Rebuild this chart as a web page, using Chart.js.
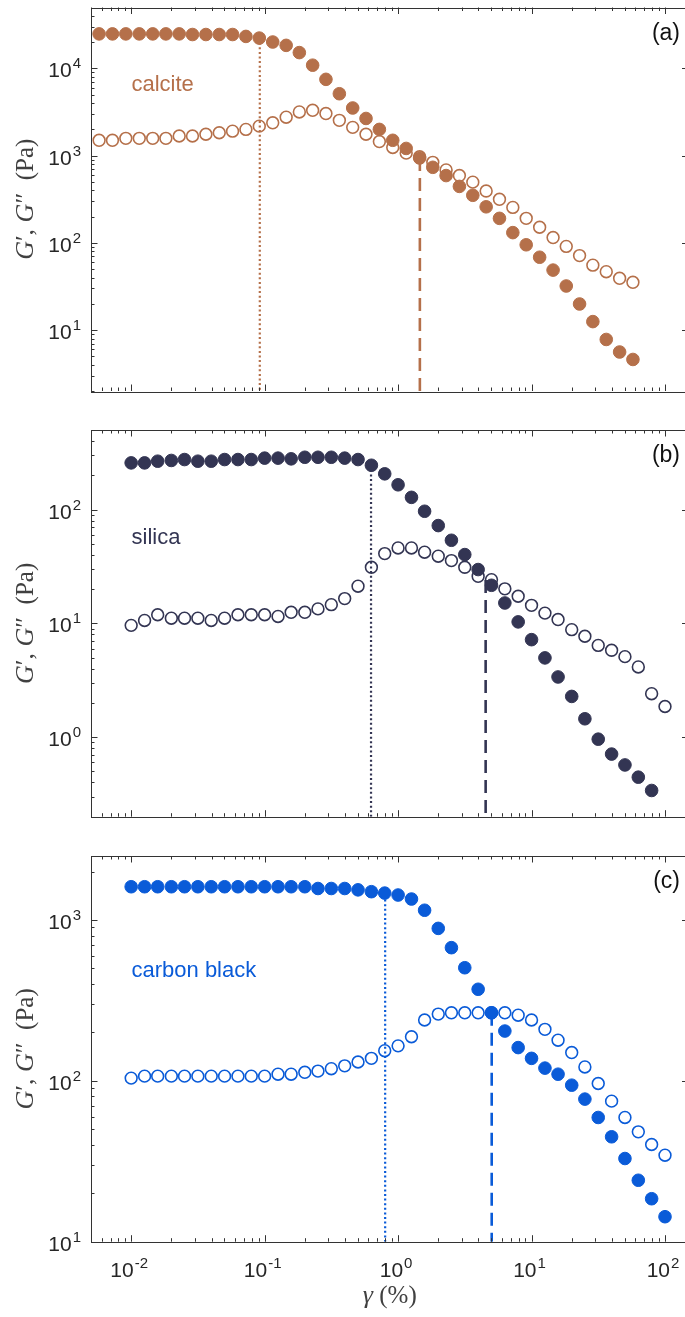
<!DOCTYPE html>
<html>
<head>
<meta charset="utf-8">
<script src="https://cdn.jsdelivr.net/npm/chart.js@4.4.0/dist/chart.umd.min.js"></script>
<style>
  html, body { margin: 0; padding: 0; overflow: hidden; background: #fff; }
  #fig { position: relative; width: 685px; height: 1317px; overflow: hidden; }
  #fig canvas { position: absolute; left: 0; }
</style>
</head>
<body>
<div id="fig">
  <canvas id="panelA" width="700" height="420" style="top:0px"></canvas>
  <canvas id="panelB" width="700" height="420" style="top:420px"></canvas>
  <canvas id="panelC" width="700" height="477" style="top:840px"></canvas>
</div>
<script>
// strain amplitude (%) of each sweep point
const strainA = [0.00575, 0.00724, 0.00912, 0.0115, 0.0145, 0.0182, 0.0229, 0.0288, 0.0363, 0.0457,
  0.0575, 0.0724, 0.0912, 0.115, 0.145, 0.182, 0.229, 0.288, 0.363, 0.457,
  0.575, 0.724, 0.912, 1.15, 1.45, 1.82, 2.29, 2.88, 3.63, 4.57,
  5.75, 7.24, 9.12, 11.5, 14.5, 18.2, 22.9, 28.8, 36.3, 45.7, 57.5];
const strainBC = [0.01, 0.0126, 0.0158, 0.02, 0.0251, 0.0316, 0.0398, 0.0501, 0.0631, 0.0794,
  0.1, 0.126, 0.158, 0.2, 0.251, 0.316, 0.398, 0.501, 0.631, 0.794,
  1, 1.26, 1.58, 2, 2.51, 3.16, 3.98, 5.01, 6.31, 7.94,
  10, 12.6, 15.8, 20, 25.1, 31.6, 39.8, 50.1, 63.1, 79.4, 100];

// calcite
const storageA = [24900, 24900, 24900, 24900, 24900, 24900, 24900, 24500, 24500, 24500,
  24500, 23300, 22300, 20100, 18400, 15200, 10900, 7500, 5130, 3520,
  2670, 2000, 1500, 1210, 940, 735, 591, 444, 351, 259,
  191, 131, 95, 68.4, 48.7, 32, 19.9, 12.5, 7.8, 5.6, 4.6];
const lossA = [1500, 1500, 1580, 1580, 1580, 1580, 1680, 1680, 1760, 1830,
  1910, 2000, 2180, 2380, 2760, 3170, 3310, 3040, 2540, 2110,
  1760, 1450, 1240, 1070, 970, 838, 686, 591, 497, 393,
  316, 255, 191, 151, 115, 91, 71.4, 55.5, 46.7, 39.2, 35.3];

// silica (G' stops one point early)
const storageB = [257, 257, 266, 270, 275, 266, 266, 275, 275, 275,
  283, 283, 279, 288, 288, 288, 283, 275, 245, 206,
  165, 128, 96.6, 72.3, 53.7, 40.2, 29.7, 21.6, 15.1, 10.3,
  7.19, 4.97, 3.38, 2.28, 1.45, 0.96, 0.71, 0.57, 0.445, 0.34];
const lossB = [9.6, 10.6, 11.9, 11.1, 11.1, 11.1, 10.6, 11.1, 11.9, 11.9,
  11.9, 11.5, 12.5, 12.5, 13.4, 14.6, 16.5, 21.2, 31.1, 41,
  46, 46, 42.2, 38.9, 35.6, 31.1, 25.9, 24.2, 20.1, 17.3,
  14.4, 12.3, 10.8, 8.8, 7.7, 6.4, 5.8, 5.1, 4.14, 2.41, 1.86];

// carbon black
const storageC = [1610, 1610, 1610, 1610, 1610, 1610, 1610, 1610, 1610, 1610,
  1610, 1610, 1610, 1610, 1570, 1570, 1570, 1540, 1500, 1470,
  1430, 1350, 1150, 887, 673, 505, 371, 265, 204, 161,
  138, 120, 110, 94, 77, 59.2, 44.9, 32.9, 24.1, 18.5, 14.3];
const lossC = [104, 107, 107, 107, 107, 107, 107, 107, 107, 107,
  107, 110, 110, 113, 115, 119, 124, 131, 138, 154,
  165, 188, 239, 260, 265, 265, 265, 265, 265, 256,
  239, 209, 179, 150, 122, 96.3, 74.8, 59.2, 48.2, 40.2, 34.5];

// end of linear regime (dotted) and G'/G'' crossover (dashed), per panel a, b, c
const yieldStrain = [0.092, 0.627, 0.80];
const yieldModulus = [22300, 245, 1430];
const crossStrain = [1.456, 4.53, 5.03];
const crossModulus = [940, 24, 265];

// axis ranges and labelled decades
const xRange = [0.005, 150];
const xTickPowers = [-2, -1, 0, 1, 2];
const yRangeA = [2, 50000];
const yRangeB = [0.2, 500];
const yRangeC = [10, 2500];
const yTickPowersA = [1, 2, 3, 4];
const yTickPowersB = [0, 1, 2];
const yTickPowersC = [1, 2, 3];

const panelNames = ['calcite', 'silica', 'carbon black'];
const panelTags = ['(a)', '(b)', '(c)'];
const panelColors = ['#B5704A', '#333553', '#0A5BD8'];

const TICK_FONT = "'Liberation Sans', Arial, Helvetica, sans-serif";
const SERIF = "'Liberation Serif', 'Times New Roman', serif";

function toPoints(xs, ys) {
  return ys.map((y, i) => ({ x: xs[i], y: y }));
}

function markers(xs, ys, color, filled) {
  return {
    data: toPoints(xs, ys),
    showLine: false,
    pointStyle: 'circle',
    pointRadius: filled ? 6.3 : 5.9,
    pointBorderWidth: filled ? 1 : 1.6,
    pointBackgroundColor: filled ? color : 'rgba(0,0,0,0)',
    pointBorderColor: color,
    order: filled ? 0 : 1,
  };
}

function guide(x, top, bottom, color, dash, width) {
  return {
    data: [{ x: x, y: top }, { x: x, y: bottom }],
    showLine: true,
    pointRadius: 0,
    borderColor: color,
    borderWidth: width,
    borderDash: dash,
    order: 2,
  };
}

// "10" with a raised exponent; anchor 'right' for y labels, 'center' for x labels
function drawPower(ctx, p, x, baseline, anchor) {
  const base = '10';
  const sup = String(p);
  ctx.font = '21px ' + TICK_FONT;
  const wb = ctx.measureText(base).width;
  ctx.font = '15px ' + TICK_FONT;
  const ws = ctx.measureText(sup).width;
  const left = anchor === 'right' ? x - wb - ws - 1 : x - (wb + ws + 1) / 2;
  ctx.textAlign = 'left';
  ctx.textBaseline = 'alphabetic';
  ctx.font = '21px ' + TICK_FONT;
  ctx.fillText(base, left, baseline);
  ctx.font = '15px ' + TICK_FONT;
  ctx.fillText(sup, left + wb + 1, baseline - 9);
}

function drawRuns(ctx, runs, x, y) {
  let w = 0;
  runs.forEach(r => { ctx.font = r[1]; w += ctx.measureText(r[0]).width; });
  let cx = x - w / 2;
  runs.forEach(r => {
    ctx.font = r[1];
    ctx.fillText(r[0], cx, y);
    cx += ctx.measureText(r[0]).width;
  });
}

// MATLAB-like box: inward major/minor ticks on all four sides plus labels
const boxAxes = {
  id: 'boxAxes',
  afterDatasetsDraw(chart, args, opts) {
    const ctx = chart.ctx;
    const a = chart.chartArea;
    const xs = chart.scales.x;
    const ys = chart.scales.y;
    ctx.save();
    ctx.strokeStyle = '#333333';
    ctx.lineWidth = 1;
    ctx.strokeRect(Math.round(a.left) + 0.5, Math.round(a.top) + 0.5,
      Math.round(a.right - a.left), Math.round(a.bottom - a.top));

    const logTicks = (min, max, fn) => {
      for (let d = Math.floor(Math.log10(min)); d <= Math.ceil(Math.log10(max)); d++) {
        for (let m = 1; m <= 9; m++) {
          const v = m * Math.pow(10, d);
          if (v >= min * 0.9999 && v <= max * 1.0001) fn(v, m === 1);
        }
      }
    };
    ctx.beginPath();
    logTicks(xs.min, xs.max, (v, major) => {
      const px = Math.round(xs.getPixelForValue(v)) + 0.5;
      const len = major ? 6.5 : 3.5;
      ctx.moveTo(px, a.bottom); ctx.lineTo(px, a.bottom - len);
      ctx.moveTo(px, a.top); ctx.lineTo(px, a.top + len);
    });
    logTicks(ys.min, ys.max, (v, major) => {
      const py = Math.round(ys.getPixelForValue(v)) + 0.5;
      const len = major ? 6.5 : 3.5;
      ctx.moveTo(a.left, py); ctx.lineTo(a.left + len, py);
      ctx.moveTo(a.right, py); ctx.lineTo(a.right - len, py);
    });
    ctx.stroke();

    ctx.fillStyle = '#262626';
    opts.yPowers.forEach(p => {
      drawPower(ctx, p, 81, ys.getPixelForValue(Math.pow(10, p)) + 9, 'right');
    });
    if (opts.xLabels) {
      xTickPowers.forEach(p => {
        drawPower(ctx, p, xs.getPixelForValue(Math.pow(10, p)) - 2, a.bottom + 35, 'center');
      });
      ctx.fillStyle = '#404040';
      drawRuns(ctx, [['\u03b3', 'italic 26px ' + SERIF], [' (%)', '25px ' + SERIF]],
        (a.left + a.right) / 2, a.bottom + 61);
    }

    // rotated y title
    ctx.fillStyle = '#404040';
    ctx.save();
    ctx.translate(33, (a.top + a.bottom) / 2);
    ctx.rotate(-Math.PI / 2);
    drawRuns(ctx, [
      ['G', 'italic 26px ' + SERIF], ['\u2032', '26px ' + SERIF], [', ', '26px ' + SERIF],
      ['G', 'italic 26px ' + SERIF], ['\u2033', '26px ' + SERIF], ['  (Pa)', '25px ' + SERIF],
    ], 0, 0);
    ctx.restore();

    // material name and panel tag
    ctx.font = '22px ' + TICK_FONT;
    ctx.fillStyle = opts.color;
    ctx.textAlign = 'left';
    ctx.fillText(opts.name, 131.5, a.top + opts.nameDrop);
    ctx.font = '23px ' + TICK_FONT;
    ctx.fillStyle = '#111111';
    ctx.textAlign = 'right';
    ctx.fillText(opts.tag, 680, a.top + 32);
    ctx.restore();
  }
};

function buildPanel(id, i, strain, storage, loss, yRange, yPowers, pad, nameDrop, xLabels) {
  const color = panelColors[i];
  new Chart(document.getElementById(id), {
    type: 'scatter',
    data: {
      datasets: [
        markers(strain, storage, color, true),
        markers(strain, loss, color, false),
        guide(yieldStrain[i], yieldModulus[i], yRange[0], color, [2, 2.6], 2.2),
        guide(crossStrain[i], crossModulus[i], yRange[0], color, [13, 7], 2.6),
      ],
    },
    options: {
      responsive: false,
      animation: false,
      devicePixelRatio: 1,
      layout: { padding: pad },
      plugins: {
        legend: { display: false },
        tooltip: { enabled: false },
        boxAxes: {
          yPowers: yPowers,
          xLabels: xLabels,
          color: color,
          name: panelNames[i],
          tag: panelTags[i],
          nameDrop: nameDrop,
        },
      },
      scales: {
        x: { type: 'logarithmic', min: xRange[0], max: xRange[1], display: false },
        y: { type: 'logarithmic', min: yRange[0], max: yRange[1], display: false },
      },
    },
    plugins: [boxAxes],
  });
}

buildPanel('panelA', 0, strainA, storageA, lossA, yRangeA, yTickPowersA,
  { left: 91, right: 11.5, top: 6, bottom: 29 }, 83, false);
buildPanel('panelB', 1, strainBC, storageB, lossB, yRangeB, yTickPowersB,
  { left: 91, right: 11.5, top: 10, bottom: 23.3 }, 114, false);
buildPanel('panelC', 2, strainBC, storageC, lossC, yRangeC, yTickPowersC,
  { left: 91, right: 11.5, top: 16, bottom: 75.3 }, 121, true);
</script>
</body>
</html>
